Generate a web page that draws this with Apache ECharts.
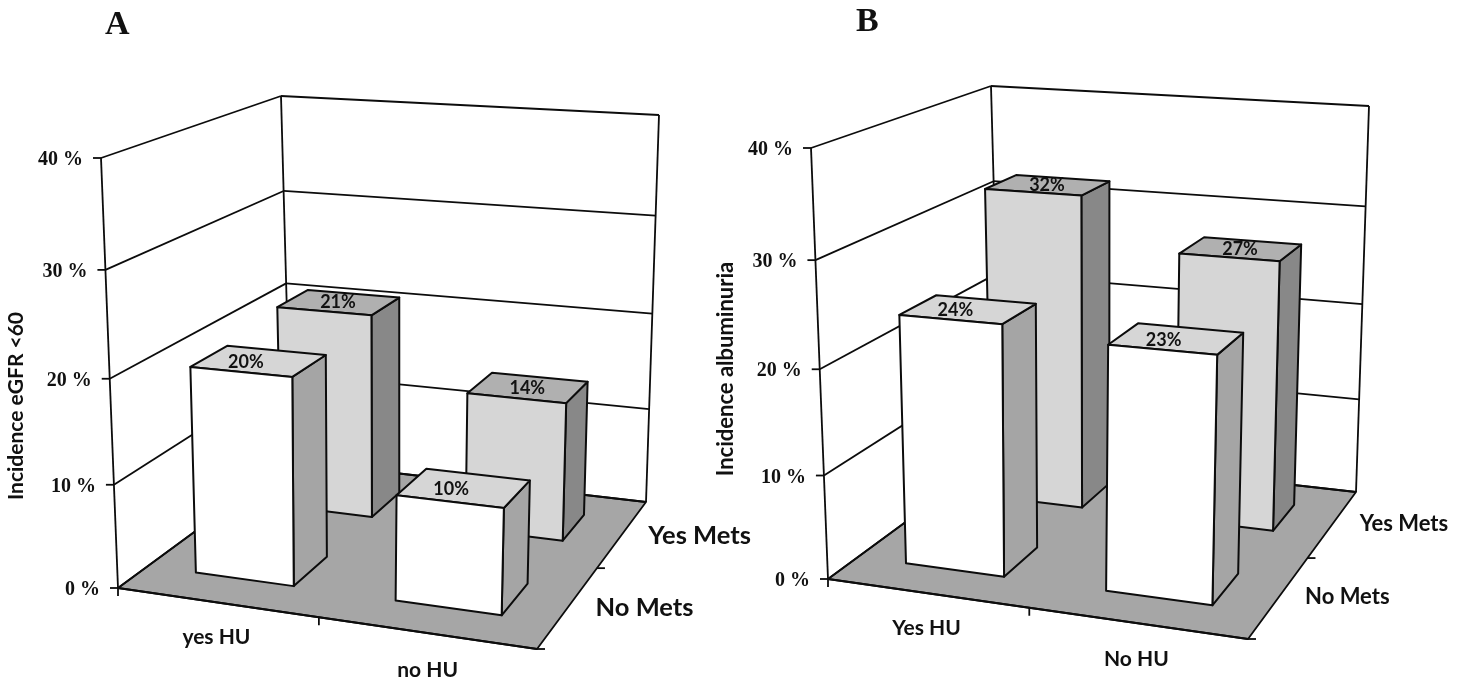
<!DOCTYPE html>
<html>
<head>
<meta charset="utf-8">
<style>html,body{margin:0;padding:0;background:#fff}#c{width:1465px;height:678px}</style>
<script src="https://cdn.jsdelivr.net/npm/echarts@6/dist/echarts.min.js"></script>
</head>
<body>
<div id="c"></div>
<script>
// ---- data ----
const huCategoriesA = ['yes HU', 'no HU'];
const metsCategoriesA = ['No Mets', 'Yes Mets'];
const noMetsA = [20, 10];
const yesMetsA = [21, 14];

const huCategoriesB = ['Yes HU', 'No HU'];
const metsCategoriesB = ['No Mets', 'Yes Mets'];
const noMetsB = [24, 23];
const yesMetsB = [32, 27];

const yTicks = [0, 10, 20, 30, 40];
const yTickLabels = ['0 %', '10 %', '20 %', '30 %', '40 %'];

// ---- layout of the two perspective boxes ----
const panels = [
  {
    name: 'A', yTitle: 'Incidence eGFR <60', titleX: 105, titleY: 8, yTitleX: 16, yTitleY: 406, yTitleSize: 21,
    hu: huCategoriesA, mets: metsCategoriesA, rows: [noMetsA, yesMetsA],
    floor: [[118, 588], [537, 649], [646, 502], [291, 461]],
    top: [[101, 158], [548, 184], [659, 115], [281, 96]],
    huOff: [[0, 35], [2, 37]], metsOff: [[76, 1], [77, 2]],
    huSize: 21, metsSize: 25.5, barFont: 18
  },
  {
    name: 'B', yTitle: 'Incidence albuminuria', titleX: 856, titleY: 5, yTitleX: 726, yTitleY: 369, yTitleSize: 22,
    hu: huCategoriesB, mets: metsCategoriesB, rows: [noMetsB, yesMetsB],
    floor: [[828, 579], [1248, 639], [1356, 492], [1001, 452]],
    top: [[811, 148], [1258, 175], [1369, 106], [991, 86]],
    huOff: [[0, 35], [0, 36]], metsOff: [[68, 1], [71, 0]],
    huSize: 21, metsSize: 22, barFont: 18
  }
];
const barHalfU = 0.125, barHalfV = 0.1, sag = 0.055;
const floorFill = '#a6a6a6', ink = '#0c0c0c';
const rowStyle = [
  { front: '#ffffff', top: '#d6d6d6', side: '#a5a5a5', labelDx: -13, labelDy: 1 },
  { front: '#d6d6d6', top: '#b0b0b0', side: '#888888', labelDx: -1, labelDy: 0 }
];

function homography(q) {
  const [[x0, y0], [x1, y1], [x2, y2], [x3, y3]] = q;
  const dx1 = x1 - x2, dx2 = x3 - x2, sx = x0 - x1 + x2 - x3;
  const dy1 = y1 - y2, dy2 = y3 - y2, sy = y0 - y1 + y2 - y3;
  const den = dx1 * dy2 - dx2 * dy1;
  const g = (sx * dy2 - dx2 * sy) / den, h = (dx1 * sy - sx * dy1) / den;
  const a = x1 - x0 + g * x1, b = x3 - x0 + h * x3;
  const d = y1 - y0 + g * y1, e = y3 - y0 + h * y3;
  return (u, v) => {
    const m = g * u + h * v + 1;
    return [(a * u + b * v + x0) / m, (d * u + e * v + y0) / m];
  };
}

function projector(p) {
  const F = homography(p.floor), T = homography(p.top);
  return (u, v, w) => {
    const k = w / (1 + sag * (1 - w));
    const a = F(u, v), b = T(u, v);
    return [a[0] + (b[0] - a[0]) * k, a[1] + (b[1] - a[1]) * k];
  };
}

const poly = (pts, fill, lw) => ({
  type: 'polygon', shape: { points: pts },
  style: { fill: fill, stroke: ink, lineWidth: lw == null ? 2 : lw, lineJoin: 'round' }
});
const seg = (a, b, lw) => ({
  type: 'line', shape: { x1: a[0], y1: a[1], x2: b[0], y2: b[1] },
  style: { stroke: ink, lineWidth: lw == null ? 1.8 : lw, fill: null }
});
const txt = (s, x, y, font, size, align) => ({
  type: 'text',
  style: { text: s, x: x, y: y, fontFamily: font, fontSize: size, fontWeight: 'bold', fill: '#111', align: align || 'center', verticalAlign: 'middle' }
});

// value (through the axis) to a 0..1 height in the box
function heightOf(params, api, value) {
  const sys = params.coordSys;
  return (sys.y + sys.height - api.coord([0, value])[1]) / sys.height;
}
// category (through the axis) to a 0..1 position along the front edge
function bandOf(params, api, index) {
  const sys = params.coordSys;
  return (api.coord([index, 0])[0] - sys.x) / sys.width;
}

const grid = [], xAxis = [], yAxis = [], series = [], title = [], graphic = [];

panels.forEach((p, idx) => {
  const P = projector(p);
  const xs = p.top.concat(p.floor).map(c => c[0]), ys = p.top.concat(p.floor).map(c => c[1]);
  const gx = Math.min(...xs), gy = Math.min(...ys);
  grid.push({ left: gx, top: gy, width: Math.max(...xs) - gx, height: Math.max(...ys) - gy, show: false });
  xAxis.push({ type: 'category', gridIndex: idx, data: p.hu, show: false });
  yAxis.push({ type: 'value', gridIndex: idx, min: 0, max: 40, interval: 10, show: false });
  const ax = { xAxisIndex: idx, yAxisIndex: idx, silent: true, clip: false, animation: false, coordinateSystem: 'cartesian2d' };

  // floor and walls
  series.push(Object.assign({}, ax, {
    type: 'custom', name: p.name + ' box', data: [[0, 40]],
    renderItem: (params, api) => {
      const t = heightOf(params, api, api.value(1));
      const c = (u, v, w) => P(u, v, w);
      return {
        type: 'group', children: [
          poly([c(0, 0, 0), c(0, 1, 0), c(1, 1, 0), c(1, 0, 0)], floorFill, 1.8),
          seg(c(0, 0, 0), c(0, 0, t)), seg(c(0, 1, 0), c(0, 1, t)), seg(c(1, 1, 0), c(1, 1, t)),
          seg(c(0, 0, 0), c(1, 0, 0), 2), seg(c(0, 0, 0), [c(0, 0, 0)[0], c(0, 0, 0)[1] + 8]),
          seg(c(0.5, 0, 0), [c(0.5, 0, 0)[0], c(0.5, 0, 0)[1] + 8]),
          seg(c(1, 0, 0), [c(1, 0, 0)[0] + 8, c(1, 0, 0)[1]]),
          seg(c(1, 0.5, 0), [c(1, 0.5, 0)[0] + 8, c(1, 0.5, 0)[1]])
        ]
      };
    }
  }));

  // value gridlines, ticks, tick labels
  series.push(Object.assign({}, ax, {
    type: 'custom', name: p.name + ' value axis',
    data: yTicks.map((v, i) => [0, v, i]),
    renderItem: (params, api) => {
      const w = heightOf(params, api, api.value(1));
      const a = P(0, 0, w), b = P(0, 1, w), d = P(1, 1, w);
      return {
        type: 'group', children: [
          seg(a, b), seg(b, d), seg(a, [a[0] - 8, a[1]]),
          txt(yTickLabels[api.value(2)], a[0] - 18, a[1] + 2, '"Liberation Serif"', 20, 'right')
        ]
      };
    }
  }));

  // bars, back row first
  const barData = [];
  for (let row = p.rows.length - 1; row >= 0; row--) {
    p.rows[row].forEach((val, i) => barData.push([i, val, row]));
  }
  series.push(Object.assign({}, ax, {
    type: 'custom', name: p.name + ' bars', data: barData,
    encode: { x: 0, y: 1 },
    renderItem: (params, api) => {
      const uc = bandOf(params, api, api.value(0)), row = api.value(2), val = api.value(1);
      const vc = (row + 0.5) / p.rows.length, w = heightOf(params, api, val), s = rowStyle[row];
      const u0 = uc - barHalfU, u1 = uc + barHalfU, v0 = vc - barHalfV, v1 = vc + barHalfV;
      const fb0 = P(u0, v0, 0), fb1 = P(u1, v0, 0), bb1 = P(u1, v1, 0);
      const ft0 = P(u0, v0, w), ft1 = P(u1, v0, w), bt1 = P(u1, v1, w), bt0 = P(u0, v1, w);
      const cx = (ft0[0] + ft1[0] + bt1[0] + bt0[0]) / 4, cy = (ft0[1] + ft1[1] + bt1[1] + bt0[1]) / 4;
      return {
        type: 'group', children: [
          poly([fb1, bb1, bt1, ft1], s.side),
          poly([ft0, ft1, bt1, bt0], s.top),
          poly([fb0, fb1, ft1, ft0], s.front),
          txt(val + '%', cx + s.labelDx, cy + s.labelDy, 'Lato', p.barFont, 'center')
        ]
      };
    }
  }));

  // category labels
  const catData = p.hu.map((_, i) => [i, 0, 0, i]).concat(p.mets.map((_, i) => [0, 0, 1, i]));
  series.push(Object.assign({}, ax, {
    type: 'custom', name: p.name + ' category labels', data: catData,
    renderItem: (params, api) => {
      const i = api.value(3);
      if (api.value(2) === 0) {
        const a = P(bandOf(params, api, i), 0, 0), o = p.huOff[i];
        return txt(p.hu[i], a[0] + o[0], a[1] + o[1], 'Lato', p.huSize, 'center');
      }
      const a = P(1, (i + 0.5) / p.mets.length, 0), o = p.metsOff[i];
      return txt(p.mets[i], a[0] + o[0], a[1] + o[1], 'Lato', p.metsSize, 'center');
    }
  }));

  title.push({
    text: p.name, left: p.titleX, top: p.titleY, padding: 0,
    textStyle: { fontFamily: '"Liberation Serif"', fontSize: 34, fontWeight: 'bold', color: '#111' }
  });
  graphic.push({
    type: 'text', x: p.yTitleX, y: p.yTitleY, rotation: Math.PI / 2, silent: true,
    style: { text: p.yTitle, fontFamily: 'Lato', fontSize: p.yTitleSize, fontWeight: 'bold', fill: '#111', align: 'center', verticalAlign: 'middle' }
  });
});

const chart = echarts.init(document.getElementById('c'), null, { renderer: 'canvas', width: 1465, height: 678 });
chart.setOption({
  animation: false, backgroundColor: '#fff',
  title, grid, xAxis, yAxis, series, graphic
});
</script>
</body>
</html>
